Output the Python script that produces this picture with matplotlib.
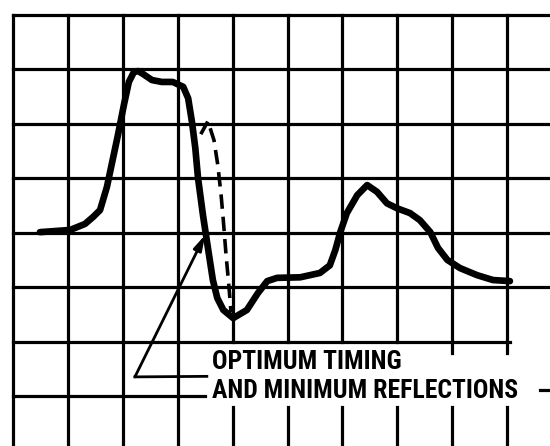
import matplotlib
matplotlib.use("Agg")
import matplotlib.pyplot as plt
import logging

logging.getLogger("matplotlib.font_manager").setLevel(logging.ERROR)

# graticule divisions (x: 0..9 columns, y: 0..7 rows, counted upward)
grid_cols = [0, 1, 2, 3, 4, 5, 6, 7, 8, 9]
grid_rows = [0, 1, 2, 3, 4, 5, 6, 7]

# main trace
solid_x = [0.49, 1.04, 1.31, 1.46, 1.585, 1.71, 1.91, 2.02, 2.11, 2.20, 2.28, 2.37,
           2.53, 2.71, 2.91, 3.10, 3.19, 3.26, 3.32, 3.37, 3.46, 3.55, 3.64, 3.72,
           3.83, 4.01, 4.26, 4.46, 4.63, 4.81, 5.23, 5.59, 5.77, 5.87, 5.96, 6.08,
           6.27, 6.45, 6.63, 6.81, 6.99, 7.23, 7.41, 7.60, 7.74, 7.91, 8.14, 8.45,
           8.74, 9.05]
solid_y = [3.01, 3.05, 3.16, 3.29, 3.415, 3.84, 4.79, 5.35, 5.77, 5.95, 5.97, 5.915,
           5.805, 5.77, 5.77, 5.68, 5.47, 5.03, 4.555, 4.00, 3.32, 2.72, 2.13, 1.80,
           1.58, 1.43, 1.58, 1.89, 2.11, 2.17, 2.18, 2.26, 2.40, 2.68, 3.01, 3.36,
           3.69, 3.875, 3.75, 3.54, 3.45, 3.36, 3.23, 3.01, 2.72, 2.50, 2.35, 2.22,
           2.13, 2.11]

# alternative falling edge
dashed_x = [3.42, 3.55, 3.66, 3.73, 3.79, 3.83, 3.88, 3.93, 3.97]
dashed_y = [4.81, 5.05, 4.70, 4.24, 3.69, 3.23, 2.59, 2.04, 1.54]

label_lines = ["OPTIMUM TIMING", "AND MINIMUM REFLECTIONS"]

fig = plt.figure(figsize=(5.5, 4.46), dpi=100)
ax = fig.add_axes([0, 0, 1, 1])
ax.set_xlim(-0.237, 9.78)
ax.set_ylim(-0.92, 7.276)
ax.axis("off")

gw = 2.3
right = 9.78
bottom = -0.92

# vertical grid lines, broken where the caption sits
for c in grid_cols:
    if c <= 3:
        ax.plot([c, c], [bottom, grid_rows[-1]], color="black", lw=gw)
    else:
        ax.plot([c, c], [1, grid_rows[-1]], color="black", lw=gw)
        ax.plot([c, c], [bottom, -0.2], color="black", lw=gw)
for c in grid_cols[-2:]:
    ax.plot([c, c], [0.78, 1], color="black", lw=gw)

# horizontal grid lines
for r in grid_rows:
    if r >= 2:
        ax.plot([0, right], [r, r], color="black", lw=gw)
    elif r == 1:
        ax.plot([0, 9.05], [r, r], color="black", lw=gw)
    else:
        ax.plot([0, 3.5], [r, r], color="black", lw=gw)
        ax.plot([9.6, right], [r + 0.1, r + 0.1], color="black", lw=gw)

ax.plot(solid_x, solid_y, color="black", lw=4.8, solid_capstyle="round",
        solid_joinstyle="round")
ax.plot(dashed_x, dashed_y, color="black", lw=2.6, dashes=(4, 2.2))

# pointer from caption to trace
ax.plot([3.53, 2.22], [0.36, 0.35], color="black", lw=2)
ax.annotate("", xy=(3.50, 2.96), xytext=(2.22, 0.35),
            arrowprops=dict(arrowstyle="-|>,head_length=0.9,head_width=0.25",
                            color="black", lw=2, shrinkA=0, shrinkB=0))

font = ["Roboto Condensed", "Archivo Narrow", "Asap Condensed", "DejaVu Sans"]
ax.text(3.62, 0.49, label_lines[0], family=font, fontweight="bold",
        fontsize=18.5, va="baseline", ha="left")
ax.text(3.62, -0.04, label_lines[1], family=font, fontweight="bold",
        fontsize=18.5, va="baseline", ha="left")

fig.savefig("out.png", dpi=100)
